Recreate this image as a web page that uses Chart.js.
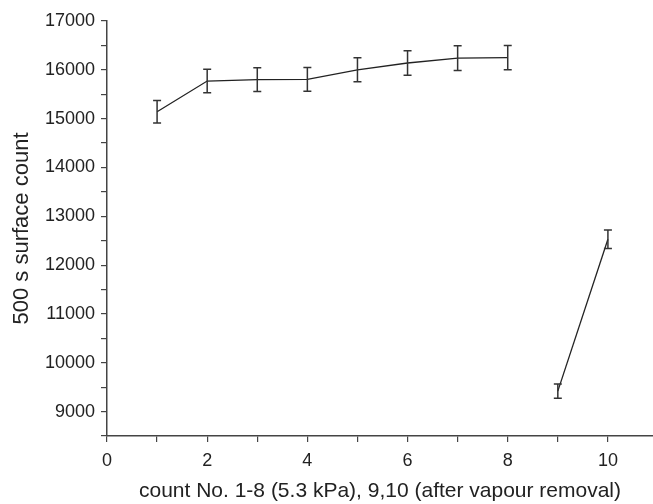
<!DOCTYPE html>
<html>
<head>
<meta charset="utf-8">
<script src="https://cdn.jsdelivr.net/npm/chart.js@4.4.1/dist/chart.umd.min.js"></script>
<style>
  html, body { margin: 0; padding: 0; background: #fff; }
  #wrap { width: 653px; height: 504px; position: relative; }
</style>
</head>
<body>
<div id="wrap"><canvas id="chart"></canvas></div>
<script>
// count No. 1-8 (5.3 kPa)
const countsA = [1, 2, 3, 4, 5, 6, 7, 8];
const surfaceA = [15140, 15770, 15800, 15805, 16000, 16140, 16240, 16250];
const errorA = [230, 240, 245, 245, 245, 250, 255, 250];

// count No. 9,10 (after vapour removal)
const countsB = [9, 10];
const surfaceB = [9420, 12530];
const errorB = [145, 190];

const fontFamily = '"Liberation Sans", Arial, sans-serif';
const inkColor = '#222';
const axisColor = '#444';

function toPoints(xs, ys, errs) {
  return xs.map((x, i) => ({ x: x, y: ys[i], err: errs[i] }));
}

// draws the vertical error bars with small caps
const errorBarPlugin = {
  id: 'errorBars',
  afterDatasetsDraw(chart) {
    const ctx = chart.ctx;
    const xScale = chart.scales.x;
    const yScale = chart.scales.y;
    ctx.save();
    ctx.strokeStyle = '#333';
    ctx.lineWidth = 1.5;
    chart.data.datasets.forEach(ds => {
      ds.data.forEach(p => {
        const px = xScale.getPixelForValue(p.x);
        const top = yScale.getPixelForValue(p.y + p.err);
        const bottom = yScale.getPixelForValue(p.y - p.err);
        ctx.beginPath();
        ctx.moveTo(px, top);
        ctx.lineTo(px, bottom);
        ctx.moveTo(px - 4, top);
        ctx.lineTo(px + 4, top);
        ctx.moveTo(px - 4, bottom);
        ctx.lineTo(px + 4, bottom);
        ctx.stroke();
      });
    });
    ctx.restore();
  }
};

const ctx = document.getElementById('chart').getContext('2d');
new Chart(ctx, {
  type: 'line',
  data: {
    datasets: [{
      label: 'count 1-8',
      data: toPoints(countsA, surfaceA, errorA),
      borderColor: inkColor,
      borderWidth: 1.3,
      pointRadius: 0,
      fill: false,
      tension: 0
    }, {
      label: 'count 9,10',
      data: toPoints(countsB, surfaceB, errorB),
      borderColor: inkColor,
      borderWidth: 1.3,
      pointRadius: 0,
      fill: false,
      tension: 0
    }]
  },
  options: {
    responsive: true,
    maintainAspectRatio: false,
    animation: false,
    layout: { padding: { top: 21, right: 0, left: 0, bottom: 0 } },
    plugins: {
      legend: { display: false },
      tooltip: { enabled: false }
    },
    scales: {
      x: {
        type: 'linear',
        min: 0,
        max: 10.9,
        border: { display: true, color: axisColor, width: 1.5 },
        grid: { drawOnChartArea: false, drawTicks: true, tickLength: 6, color: axisColor, lineWidth: 1.2 },
        ticks: {
          stepSize: 1,
          includeBounds: false,
          autoSkip: false,
          maxRotation: 0,
          color: inkColor,
          padding: 8,
          font: { family: fontFamily, size: 18 },
          callback: v => (v % 2 === 0 ? v : '')
        },
        title: {
          display: true,
          text: 'count No. 1-8 (5.3 kPa), 9,10 (after vapour removal)',
          color: inkColor,
          font: { family: fontFamily, size: 21 },
          padding: { top: 0, bottom: 0 }
        },
        afterFit(scale) { scale.height = 68; }
      },
      y: {
        type: 'linear',
        min: 8500,
        max: 17000,
        border: { display: true, color: axisColor, width: 1.5 },
        grid: { drawOnChartArea: false, drawTicks: true, tickLength: 6, color: axisColor, lineWidth: 1.2 },
        ticks: {
          stepSize: 500,
          autoSkip: false,
          color: inkColor,
          padding: 6,
          font: { family: fontFamily, size: 18 },
          callback: v => (v % 1000 === 0 ? v : '')
        },
        title: {
          display: true,
          text: '500 s surface count',
          color: inkColor,
          font: { family: fontFamily, size: 22 },
          padding: { top: 9, bottom: 0 }
        },
        afterFit(scale) { scale.width = 107; }
      }
    }
  },
  plugins: [errorBarPlugin]
});
</script>
</body>
</html>
